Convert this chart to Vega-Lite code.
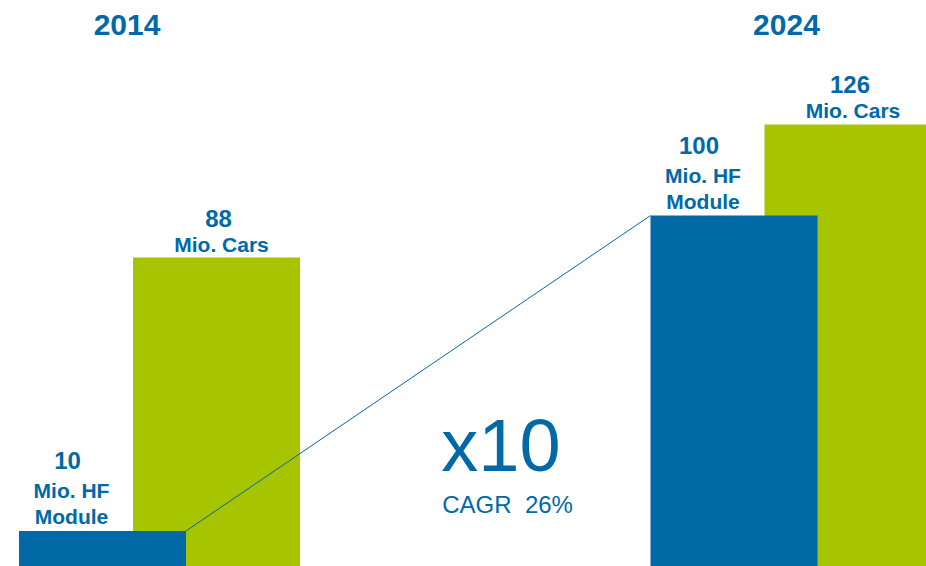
{
  "$schema": "https://vega.github.io/schema/vega-lite/v6.json",
  "width": 926,
  "height": 566,
  "padding": 0,
  "autosize": "none",
  "background": "white",
  "config": {"view": {"stroke": null}, "text": {"font": "Liberation Sans"}},
  "datasets": {
    "bars": [
      {"year": 2014, "series": "HF Module", "value": 10, "unit": "Mio. HF\nModule"},
      {"year": 2014, "series": "Cars", "value": 88, "unit": "Mio. Cars"},
      {"year": 2024, "series": "HF Module", "value": 100, "unit": "Mio. HF\nModule"},
      {"year": 2024, "series": "Cars", "value": 126, "unit": "Mio. Cars"}
    ],
    "growth": [
      {"from_year": 2014, "to_year": 2024, "from": 10, "to": 100, "factor": "x10", "cagr": "CAGR\u00a0\u00a026%"}
    ]
  },
  "layer": [
    {
      "data": {"name": "bars"},
      "transform": [{"filter": "datum.series === 'Cars'"}],
      "mark": {"type": "bar", "orient": "vertical", "width": 167, "xOffset": 57, "color": "#A6C400", "clip": true},
      "encoding": {
        "x": {"field": "year", "type": "quantitative", "scale": {"domain": [2011.474, 2026.138], "nice": false, "zero": false, "padding": 0}, "axis": null},
        "y": {"field": "value", "type": "quantitative", "scale": {"domain": [0, 161.5], "nice": false, "padding": 0}, "axis": null}
      }
    },
    {
      "data": {"name": "bars"},
      "transform": [{"filter": "datum.series === 'HF Module'"}],
      "mark": {"type": "bar", "orient": "vertical", "width": 167, "xOffset": -57, "color": "#0069A6", "clip": true},
      "encoding": {
        "x": {"field": "year", "type": "quantitative", "axis": null},
        "y": {"field": "value", "type": "quantitative", "axis": null}
      }
    },
    {
      "data": {"name": "growth"},
      "mark": {"type": "rule", "color": "#0069A6", "strokeWidth": 1, "xOffset": 26.5, "x2Offset": -140.5},
      "encoding": {
        "x": {"field": "from_year", "type": "quantitative", "axis": null},
        "x2": {"field": "to_year"},
        "y": {"field": "from", "type": "quantitative", "axis": null},
        "y2": {"field": "to"}
      }
    },
    {
      "data": {"name": "bars"},
      "transform": [{"filter": "datum.series === 'HF Module'"}],
      "mark": {"type": "text", "font": "Liberation Sans", "fontWeight": "bold", "fontSize": 24, "color": "#0069A6", "align": "center", "baseline": "alphabetic", "xOffset": -92, "dy": -62},
      "encoding": {
        "x": {"field": "year", "type": "quantitative", "axis": null},
        "y": {"field": "value", "type": "quantitative", "axis": null},
        "text": {"field": "value"}
      }
    },
    {
      "data": {"name": "bars"},
      "transform": [{"filter": "datum.series === 'HF Module'"}],
      "mark": {"type": "text", "font": "Liberation Sans", "fontWeight": "bold", "fontSize": 21, "color": "#0069A6", "align": "center", "baseline": "alphabetic", "lineBreak": "\n", "lineHeight": 26, "xOffset": -88, "dy": -33},
      "encoding": {
        "x": {"field": "year", "type": "quantitative", "axis": null},
        "y": {"field": "value", "type": "quantitative", "axis": null},
        "text": {"field": "unit"}
      }
    },
    {
      "data": {"name": "bars"},
      "transform": [{"filter": "datum.series === 'Cars'"}],
      "mark": {"type": "text", "font": "Liberation Sans", "fontWeight": "bold", "fontSize": 24, "color": "#0069A6", "align": "center", "baseline": "alphabetic", "xOffset": 59, "dy": -31},
      "encoding": {
        "x": {"field": "year", "type": "quantitative", "axis": null},
        "y": {"field": "value", "type": "quantitative", "axis": null},
        "text": {"field": "value"}
      }
    },
    {
      "data": {"name": "bars"},
      "transform": [{"filter": "datum.series === 'Cars'"}],
      "mark": {"type": "text", "font": "Liberation Sans", "fontWeight": "bold", "fontSize": 21, "color": "#0069A6", "align": "center", "baseline": "alphabetic", "xOffset": 62, "dy": -6},
      "encoding": {
        "x": {"field": "year", "type": "quantitative", "axis": null},
        "y": {"field": "value", "type": "quantitative", "axis": null},
        "text": {"field": "unit"}
      }
    },
    {
      "data": {"name": "bars"},
      "transform": [{"filter": "datum.series === 'Cars' && datum.year === 2014"}],
      "mark": {"type": "text", "font": "Liberation Sans", "fontWeight": "bold", "fontSize": 30, "color": "#0069A6", "align": "center", "baseline": "alphabetic", "xOffset": -32.5},
      "encoding": {
        "x": {"field": "year", "type": "quantitative", "axis": null},
        "y": {"datum": 151.5, "type": "quantitative", "axis": null},
        "text": {"field": "year"}
      }
    },
    {
      "data": {"name": "bars"},
      "transform": [{"filter": "datum.series === 'Cars' && datum.year === 2024"}],
      "mark": {"type": "text", "font": "Liberation Sans", "fontWeight": "bold", "fontSize": 30, "color": "#0069A6", "align": "center", "baseline": "alphabetic", "xOffset": -4.5},
      "encoding": {
        "x": {"field": "year", "type": "quantitative", "axis": null},
        "y": {"datum": 151.5, "type": "quantitative", "axis": null},
        "text": {"field": "year"}
      }
    },
    {
      "data": {"name": "growth"},
      "mark": {"type": "text", "font": "Liberation Sans", "fontSize": 74, "color": "#0069A6", "align": "left", "baseline": "alphabetic", "dx": -34},
      "encoding": {
        "x": {"datum": 2019, "type": "quantitative", "axis": null},
        "y": {"datum": 27, "type": "quantitative", "axis": null},
        "text": {"field": "factor"}
      }
    },
    {
      "data": {"name": "growth"},
      "mark": {"type": "text", "font": "Liberation Sans", "fontSize": 24, "color": "#0069A6", "align": "left", "baseline": "alphabetic", "dx": -33},
      "encoding": {
        "x": {"datum": 2019, "type": "quantitative", "axis": null},
        "y": {"datum": 15, "type": "quantitative", "axis": null},
        "text": {"field": "cagr"}
      }
    }
  ]
}
